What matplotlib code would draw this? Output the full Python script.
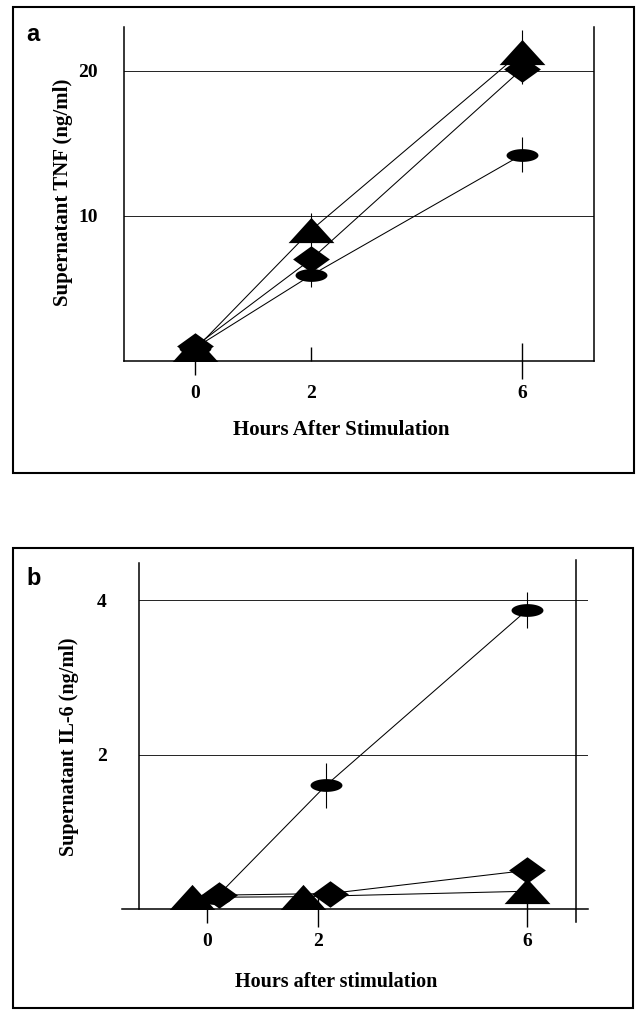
import numpy as np
import matplotlib
matplotlib.use("Agg")
import matplotlib.pyplot as plt
import matplotlib.lines as mlines
from matplotlib.patches import Rectangle

# данные
hours = [0, 2, 6]
hour_labels = ["0", "2", "6"]

# панель a: TNF, ng/ml
tnf_triangle = [0.8, 9.0, 21.3]
tnf_triangle_err = [0.3, 1.2, 1.5]
tnf_diamond = [1.0, 7.0, 20.1]
tnf_diamond_err = [0.3, 0.8, 1.0]
tnf_oval = [0.9, 5.9, 14.2]
tnf_oval_err = [0.3, 0.8, 1.2]
tnf_ticks = [10, 20]

# панель b: IL-6, ng/ml
il6_triangle = [0.15, 0.16, 0.23]
il6_triangle_err = [0.05, 0.05, 0.05]
il6_diamond = [0.18, 0.2, 0.5]
il6_diamond_err = [0.05, 0.05, 0.05]
il6_oval = [0.14, 1.6, 3.87]
il6_oval_err = [0.05, 0.29, 0.23]
il6_ticks = [2, 4]

W, H = 636, 1011
SERIF = ["Liberation Serif", "DejaVu Serif"]
SANS = ["Liberation Sans", "DejaVu Sans"]

# формы маркеров: сплюснутые треугольник, ромб и овал
t = np.linspace(0, 2 * np.pi, 48)
TRI = [(-1, -0.55), (1, -0.55), (0, 0.55), (-1, -0.55)]
DIA = [(-1, 0), (0, 0.72), (1, 0), (0, -0.72), (-1, 0)]
OVAL = list(zip(np.cos(t), 0.4 * np.sin(t)))


def fig_rect(x0, y0, x1, y1):
    """Пиксели (сверху-слева) -> доли фигуры"""
    return [x0 / W, 1 - y1 / H, (x1 - x0) / W, (y1 - y0) / H]


def hour_scale(k):
    """Ось времени: отрезок 2..6 ч сжат в k раз, как на исходном графике"""
    fwd = lambda h: np.where(h <= 2, h, 2 + (h - 2) * k)
    inv = lambda p: np.where(p <= 2, p, 2 + (p - 2) / k)
    return fwd, inv


def draw_series(ax, y, err, marker, size, dodge=0.0):
    x = [h + dodge if h < 6 else h for h in hours]
    ax.errorbar(x, y, yerr=err, fmt="none", ecolor="black", elinewidth=0.8, capsize=0, zorder=2)
    ax.plot(x, y, color="black", lw=0.75, zorder=3)
    ax.plot(x, y, linestyle="none", marker=marker, markersize=size, color="black",
            markeredgewidth=0, zorder=4)


def set_tick_kinds(ax, kinds):
    # направление каждой риски отдельно: out / in / inout
    for tick, kind in zip(ax.xaxis.get_major_ticks(), kinds):
        if kind == "in":
            tick.tick1line.set_marker(mlines.TICKUP)
        elif kind == "inout":
            tick.tick1line.set_marker("|")
            tick.tick1line.set_markersize(26)


fig = plt.figure(figsize=(W / 100, H / 100), dpi=100)

# рамки панелей
for x0, y0, x1, y1 in [(13, 7, 634, 473), (13, 548, 633, 1008)]:
    fig.patches.append(Rectangle((x0 / W, 1 - y1 / H), (x1 - x0) / W, (y1 - y0) / H,
                                 transform=fig.transFigure, fill=False, lw=1.5, ec="black"))

# ---------- панель a ----------
ax = fig.add_axes(fig_rect(124, 27, 594, 361))
ax.set_xscale("function", functions=hour_scale(0.909))
ax.set_xlim(-1.224, 7.367)
ax.set_ylim(0, 23.0)
for v in tnf_ticks:
    ax.axhline(v, color="#222222", lw=0.7, zorder=1)
draw_series(ax, tnf_triangle, tnf_triangle_err, TRI, 33)
draw_series(ax, tnf_diamond, tnf_diamond_err, DIA, 26.5)
draw_series(ax, tnf_oval, tnf_oval_err, OVAL, 23)
ax.spines["top"].set_visible(False)
for s in ["left", "right", "bottom"]:
    ax.spines[s].set_linewidth(1.1)
ax.set_xticks(hours, hour_labels)
ax.set_yticks(tnf_ticks, [str(v) for v in tnf_ticks])
ax.tick_params(axis="x", direction="out", length=10, width=1, pad=7)
ax.tick_params(axis="y", length=0, pad=19)
for lab in ax.get_xticklabels() + ax.get_yticklabels():
    lab.set_fontfamily(SERIF)
    lab.set_fontweight("bold")
    lab.set_fontsize(14)
set_tick_kinds(ax, ["out", "in", "inout"])
fig.text(63 / W, 1 - 192 / H, "Supernatant TNF (ng/ml)", rotation=90, ha="center", va="center",
         family=SERIF, weight="bold", fontsize=15)
fig.text(341 / W, 1 - 430 / H, "Hours After Stimulation", ha="center", va="center",
         family=SERIF, weight="bold", fontsize=15)
fig.text(26 / W, 1 - 41 / H, "a", ha="left", va="baseline", family=SANS, weight="bold", fontsize=17)

# ---------- панель b ----------
ax = fig.add_axes(fig_rect(122, 563, 588, 909))
ax.set_xscale("function", functions=hour_scale(0.94))
ax.set_xlim(-1.53, 7.17)
ax.set_ylim(0, 4.48)
for v in il6_ticks:
    ax.axhline(v, xmin=0.036, xmax=1, color="#222222", lw=0.7, zorder=1)
draw_series(ax, il6_oval, il6_oval_err, OVAL, 23, dodge=0.15)
draw_series(ax, il6_triangle, il6_triangle_err, TRI, 33, dodge=-0.27)
draw_series(ax, il6_diamond, il6_diamond_err, DIA, 26.5, dodge=0.22)
ax.spines["top"].set_visible(False)
ax.spines["left"].set_position(("axes", 0.036))
ax.spines["right"].set_position(("axes", 0.974))
ax.spines["right"].set_bounds(-0.17, 4.52)
for s in ["left", "right", "bottom"]:
    ax.spines[s].set_linewidth(1.1)
ax.set_xticks(hours, hour_labels)
ax.set_yticks(il6_ticks, [str(v) for v in il6_ticks])
ax.tick_params(axis="x", direction="out", length=10, width=1, pad=7)
ax.tick_params(axis="y", length=0, pad=23)
for lab in ax.get_xticklabels() + ax.get_yticklabels():
    lab.set_fontfamily(SERIF)
    lab.set_fontweight("bold")
    lab.set_fontsize(14)
set_tick_kinds(ax, ["out", "inout", "inout"])
fig.text(69 / W, 1 - 747 / H, "Supernatant IL-6 (ng/ml)", rotation=90, ha="center", va="center",
         family=SERIF, weight="bold", fontsize=14.5)
fig.text(336 / W, 1 - 982 / H, "Hours after stimulation", ha="center", va="center",
         family=SERIF, weight="bold", fontsize=14.5)
fig.text(26 / W, 1 - 585 / H, "b", ha="left", va="baseline", family=SANS, weight="bold", fontsize=17)

fig.savefig("out.png", dpi=100)
